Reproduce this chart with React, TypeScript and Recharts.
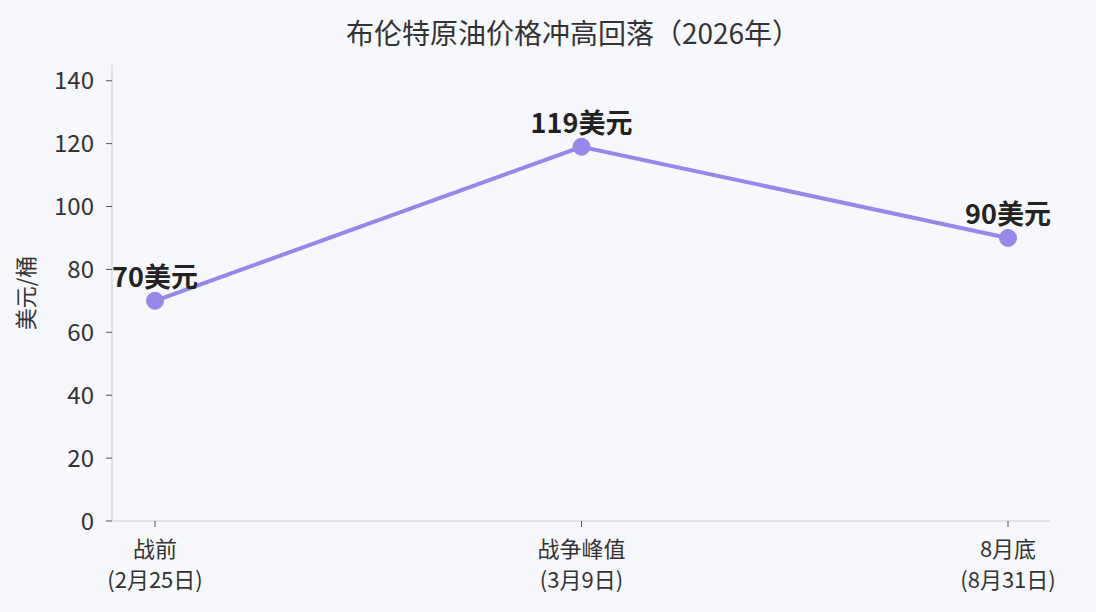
import React from "react";
import { LineChart, Line, XAxis, YAxis, LabelList, Label } from "recharts";

const categories = ["战前\n(2月25日)", "战争峰值\n(3月9日)", "8月底\n(8月31日)"];
const prices = [70, 119, 90];
const priceLabels = ["70美元", "119美元", "90美元"];
const yTicks = [0, 20, 40, 60, 80, 100, 120, 140];

const data = categories.map((c, i) => ({ name: c, price: prices[i], label: priceLabels[i] }));

const FONT = '"Noto Sans CJK SC", "Noto Sans", sans-serif';
const LINE_COLOR = "#9588EA";
const BG = "#F7F8FC";

const XTick = (props: any) => {
  const { x, y, payload } = props;
  const lines = String(payload.value).split("\n");
  return (
    <g transform={`translate(${x},${y})`}>
      {lines.map((l, i) => (
        <text key={i} x={0} y={28 + i * 31} textAnchor="middle" fill="#333" fontSize={22} fontFamily={FONT}>
          {l}
        </text>
      ))}
    </g>
  );
};

export default function App() {
  return (
    <div style={{ position: "absolute", left: 0, top: 0, width: 1096, height: 612, background: BG, fontFamily: FONT }}>
      <div
        style={{
          position: "absolute",
          top: 12,
          left: 0,
          width: 1146,
          textAlign: "center",
          fontSize: 28,
          lineHeight: "40px",
          color: "#333",
        }}
      >
        布伦特原油价格冲高回落（2026年）
      </div>
      <LineChart width={1096} height={612} data={data} margin={{ top: 65, right: 46, bottom: 0, left: 0 }}>
        <XAxis
          dataKey="name"
          interval={0}
          padding={{ left: 43, right: 42 }}
          stroke="#ccc"
          tickLine={{ stroke: "#555" }}
          tickSize={6}
          tick={<XTick />}
          height={91}
        />
        <YAxis
          domain={[0, 145]}
          ticks={yTicks}
          width={112}
          stroke="#ccc"
          tickLine={{ stroke: "#555" }}
          tickSize={6}
          tickMargin={12}
          tick={{ fill: "#333", fontSize: 24, fontFamily: FONT }}
        >
          <Label
            value="美元/桶"
            angle={-90}
            position="insideLeft"
            offset={26}
            style={{ fill: "#333", fontSize: 22, fontFamily: FONT, textAnchor: "middle" }}
          />
        </YAxis>
        <Line
          type="linear"
          dataKey="price"
          stroke={LINE_COLOR}
          strokeWidth={4}
          dot={{ r: 8.5, fill: LINE_COLOR, stroke: LINE_COLOR, strokeWidth: 1 }}
          activeDot={false}
          isAnimationActive={false}
        >
          <LabelList dataKey="label" position="top" offset={14} fill="#222" fontSize={27} fontWeight="bold" fontFamily={FONT} />
        </Line>
      </LineChart>
    </div>
  );
}
